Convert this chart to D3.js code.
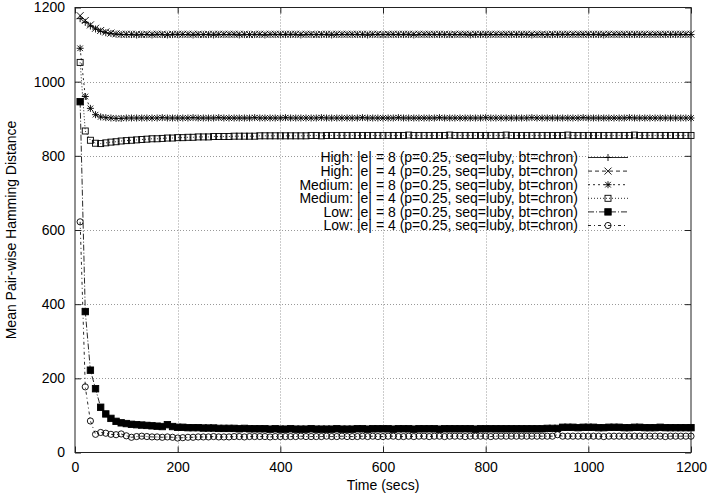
<!DOCTYPE html>
<html><head><meta charset="utf-8">
<script src="https://cdn.jsdelivr.net/npm/d3@7"></script>
<style>body{margin:0;background:#fff}svg{display:block}text{font-family:"Liberation Sans",Arial,sans-serif;fill:#000}</style>
</head><body><svg id="c" width="710" height="497"></svg>
<script>
const times = [10,20,30,40,50,60,70,80,90,100,110,120,130,140,150,160,170,180,190,200,
210,220,230,240,250,260,270,280,290,300,310,320,330,340,350,360,370,380,390,400,
410,420,430,440,450,460,470,480,490,500,510,520,530,540,550,560,570,580,590,600,
610,620,630,640,650,660,670,680,690,700,710,720,730,740,750,760,770,780,790,800,
810,820,830,840,850,860,870,880,890,900,910,920,930,940,950,960,970,980,990,1000,
1010,1020,1030,1040,1050,1060,1070,1080,1090,1100,1110,1120,1130,1140,1150,1160,1170,1180,1190,1200];

const highE8 = [1170,1160,1150,1142,1136,1132,1130,1128,1127,1127,1127,1126,1127,1127,1126,1127,1127,1126,1127,1127,
1127,1127,1126,1127,1127,1127,1126,1127,1127,1127,1127,1126,1127,1127,1127,1127,1126,1127,1127,1127,
1127,1127,1127,1126,1127,1127,1127,1127,1127,1126,1127,1127,1127,1127,1127,1127,1126,1127,1127,1127,
1127,1127,1127,1127,1127,1126,1127,1127,1127,1127,1127,1127,1127,1127,1127,1127,1126,1127,1127,1127,
1127,1127,1127,1127,1127,1127,1127,1127,1126,1127,1127,1127,1127,1127,1127,1127,1127,1127,1127,1127,
1127,1127,1126,1127,1127,1127,1127,1127,1127,1127,1127,1127,1127,1127,1127,1127,1127,1127,1127,1127];

const highE4 = [1178,1165,1153,1144,1138,1134,1131,1129,1128,1128,1128,1128,1127,1128,1128,1128,1128,1127,1128,1128,
1128,1128,1128,1128,1127,1128,1128,1128,1128,1128,1128,1128,1128,1127,1128,1128,1128,1128,1128,1128,
1128,1128,1128,1128,1128,1128,1127,1128,1128,1128,1128,1128,1128,1128,1128,1128,1128,1128,1128,1127,
1128,1128,1128,1128,1128,1128,1128,1128,1128,1128,1128,1128,1127,1128,1128,1128,1128,1128,1128,1128,
1128,1128,1128,1128,1128,1128,1128,1128,1128,1128,1128,1127,1128,1128,1128,1128,1128,1128,1128,1128,
1128,1128,1128,1128,1128,1128,1128,1128,1128,1128,1128,1128,1128,1128,1128,1128,1128,1128,1128,1128];

const medE8 = [1090,960,928,911,905,903,902,901,901,902,902,902,902,902,902,902,903,902,902,902,
902,902,903,902,902,902,902,903,902,902,902,902,902,902,903,902,902,902,902,902,
903,902,902,902,902,902,902,903,902,902,902,902,902,902,902,903,902,902,902,902,
902,902,903,902,902,902,902,902,902,902,903,902,902,902,902,902,902,902,902,903,
902,902,902,902,902,902,902,902,903,902,902,902,902,902,902,902,902,902,903,902,
902,902,902,902,902,902,902,903,902,902,902,902,902,902,902,902,902,902,902,902];

const medE4 = [1052,867,842,834,833,835,837,838,840,841,842,843,844,845,846,846,847,848,848,849,
849,850,850,851,851,851,852,852,852,852,853,853,853,853,853,854,854,854,854,854,
854,854,854,854,854,855,855,854,855,855,855,855,855,855,855,855,855,855,855,855,
855,855,855,855,856,855,855,855,855,855,855,855,856,855,855,855,855,855,855,855,
855,855,855,856,855,855,855,855,855,855,855,855,855,855,855,856,855,855,855,855,
855,855,855,855,855,855,855,855,856,855,855,855,855,855,855,855,855,855,855,855];

const lowE8 = [946,380,222,172,122,104,92,84,80,78,76,75,74,73,72,71,70,75,70,68,
68,67,67,67,66,66,66,65,65,65,65,64,65,64,64,64,64,63,64,63,
63,64,63,63,63,64,63,63,63,63,64,63,63,63,64,64,63,64,64,64,
64,63,64,64,64,63,64,64,64,64,63,64,64,64,64,64,64,63,64,64,
64,64,64,64,64,64,64,64,64,64,64,65,65,65,68,68,68,67,68,68,
68,67,67,68,68,68,67,67,68,68,67,67,67,68,67,67,67,67,67,67];

const lowE4 = [622,177,85,49,54,52,49,48,50,45,41,43,44,43,42,42,41,42,41,39,
40,41,41,42,42,42,43,42,42,42,43,43,42,43,43,43,43,42,43,43,
43,43,43,44,43,43,43,43,44,43,43,44,43,43,43,44,43,44,43,43,
44,44,43,43,44,43,44,44,43,44,44,43,44,44,44,43,44,44,44,44,
43,44,44,44,44,44,44,44,44,44,44,44,44,48,44,44,44,44,44,44,
44,44,43,44,44,44,44,44,44,44,44,44,44,44,43,44,44,44,44,44];

const seriesLabels = [
  "High: |e| = 8 (p=0.25, seq=luby, bt=chron)",
  "High: |e| = 4 (p=0.25, seq=luby, bt=chron)",
  "Medium: |e| = 8 (p=0.25, seq=luby, bt=chron)",
  "Medium: |e| = 4 (p=0.25, seq=luby, bt=chron)",
  "Low: |e| = 8 (p=0.25, seq=luby, bt=chron)",
  "Low: |e| = 4 (p=0.25, seq=luby, bt=chron)"
];
const seriesValues = [highE8, highE4, medE8, medE4, lowE8, lowE4];
const xTicks = [0,200,400,600,800,1000,1200];
const yTicks = [0,200,400,600,800,1000,1200];
const xTitle = "Time (secs)";
const yTitle = "Mean Pair-wise Hamming Distance";

const dashes = [null, "4,3", "2,3", "1,2", "6,2,1,2", "3,3,1,3"];
const markerKind = ["plus","cross","star","square","fsquare","circle"];

const svg = d3.select("#c");
const M = {l:75, r:19, t:7.5, b:44.5};
const W = 710, H = 497;
const x = d3.scaleLinear().domain([0,1200]).range([M.l, W-M.r]);
const y = d3.scaleLinear().domain([0,1200]).range([H-M.b, M.t]);

// grid
const g = svg.append("g");
g.selectAll(".gx").data(xTicks.filter(d=>d>0&&d<1200)).join("line")
  .attr("x1",d=>Math.round(x(d))+0.5).attr("x2",d=>Math.round(x(d))+0.5)
  .attr("y1",y(0)).attr("y2",y(1200))
  .attr("stroke","#999").attr("stroke-dasharray","1,2");
g.selectAll(".gy").data(yTicks.filter(d=>d>0&&d<1200)).join("line")
  .attr("y1",d=>Math.round(y(d))+0.5).attr("y2",d=>Math.round(y(d))+0.5)
  .attr("x1",x(0)).attr("x2",x(1200))
  .attr("stroke","#999").attr("stroke-dasharray","1,2");

// axes
const fs = "14px";
const ax = svg.append("g").attr("transform",`translate(0,${y(0)})`)
  .call(d3.axisBottom(x).tickValues(xTicks).tickSize(-6).tickPadding(10).tickFormat(d3.format("d")));
const ay = svg.append("g").attr("transform",`translate(${x(0)},0)`)
  .call(d3.axisLeft(y).tickValues(yTicks).tickSize(-6).tickPadding(10).tickFormat(d3.format("d")));
const at = svg.append("g").attr("transform",`translate(0,${y(1200)})`)
  .call(d3.axisTop(x).tickValues(xTicks).tickSize(-6).tickFormat(""));
const ar = svg.append("g").attr("transform",`translate(${x(1200)},0)`)
  .call(d3.axisRight(y).tickValues(yTicks).tickSize(-6).tickFormat(""));
[ax,ay,at,ar].forEach(a=>{
  a.select(".domain").remove();
  a.selectAll("line").attr("stroke","#222");
  a.selectAll("text").style("font-size",fs).attr("fill","#000")
   .style("font-family","'Liberation Sans',Arial,sans-serif");
});
svg.append("rect").attr("x",x(0)).attr("y",y(1200))
  .attr("width",x(1200)-x(0)).attr("height",y(0)-y(1200))
  .attr("fill","none").attr("stroke","#222").attr("stroke-width",1);

svg.append("text").attr("x",(x(0)+x(1200))/2).attr("y",490)
  .attr("text-anchor","middle").style("font-size",fs).text(xTitle);
svg.append("text").attr("transform",`translate(15.5,${(y(0)+y(1200))/2}) rotate(-90)`)
  .attr("text-anchor","middle").style("font-size",fs).text(yTitle);

function marker(sel, kind){
  const s = 3.5;
  if(kind==="plus") sel.append("path").attr("d",`M${-s},0H${s}M0,${-s}V${s}`).attr("stroke","#000").attr("fill","none");
  else if(kind==="cross") sel.append("path").attr("d",`M${-s},${-s}L${s},${s}M${-s},${s}L${s},${-s}`).attr("stroke","#000").attr("fill","none");
  else if(kind==="star") sel.append("path").attr("d",`M${-s},0H${s}M0,${-s}V${s}M${-s*0.8},${-s*0.8}L${s*0.8},${s*0.8}M${-s*0.8},${s*0.8}L${s*0.8},${-s*0.8}`).attr("stroke","#000").attr("fill","none");
  else if(kind==="square") sel.append("rect").attr("x",-3).attr("y",-3).attr("width",6).attr("height",6).attr("stroke","#000").attr("fill","none");
  else if(kind==="fsquare") sel.append("rect").attr("x",-3.2).attr("y",-3.2).attr("width",6.4).attr("height",6.4).attr("stroke","#000").attr("fill","#000");
  else if(kind==="circle") sel.append("circle").attr("r",3.1).attr("stroke","#000").attr("fill","none");
}

const line = d3.line().x((d,i)=>x(times[i])).y(d=>y(d));
seriesValues.forEach((vals,k)=>{
  const grp = svg.append("g");
  grp.append("path").datum(vals).attr("d",line).attr("fill","none")
    .attr("stroke","#111").attr("stroke-width",0.9)
    .attr("stroke-dasharray",dashes[k]);
  grp.selectAll("g.m").data(vals).join("g")
    .attr("transform",(d,i)=>`translate(${x(times[i])},${y(d)})`)
    .each(function(){ marker(d3.select(this), markerKind[k]); })
    .selectAll("*").attr("stroke-width",0.9);
});

// legend
const leg = svg.append("g");
seriesLabels.forEach((lab,k)=>{
  const ly = 157.5 + k*13.6;
  leg.append("text").attr("x",578).attr("y",ly).attr("dy","0.35em")
    .attr("text-anchor","end").style("font-size",fs).text(lab);
  leg.append("line").attr("x1",588).attr("x2",628).attr("y1",ly).attr("y2",ly)
    .attr("stroke","#111").attr("stroke-width",0.9).attr("stroke-dasharray",dashes[k]);
  const m = leg.append("g").attr("transform",`translate(608,${ly})`);
  marker(m, markerKind[k]);
  m.selectAll("*").attr("stroke-width",0.9);
});
</script></body></html>
